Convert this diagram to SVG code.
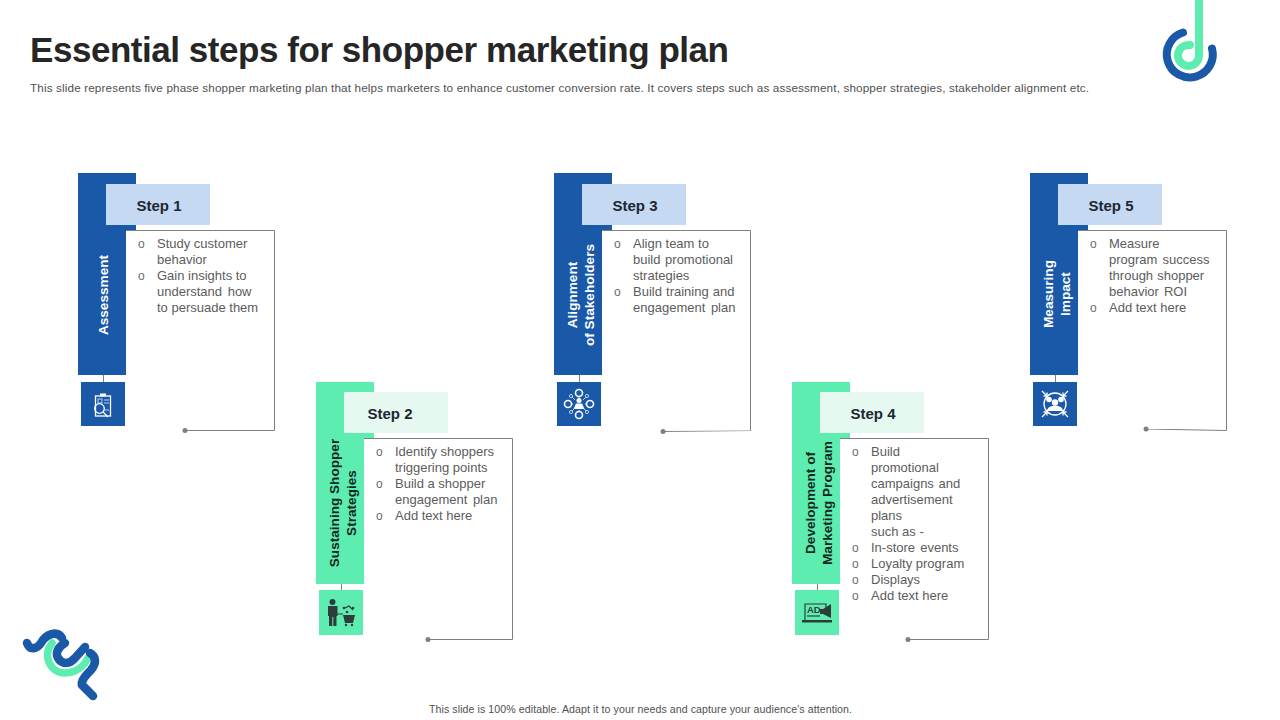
<svg xmlns="http://www.w3.org/2000/svg" width="1280" height="720" viewBox="0 0 1280 720">
<defs>
<style>
text{font-family:"Liberation Sans",Arial,sans-serif}
.title{font-family:"Liberation Sans",Arial,sans-serif;font-size:35px;font-weight:700;fill:#262626}
.sub{font-size:11.7px;fill:#505050}
.foot{font-size:10.6px;fill:#505050}
.step{font-size:15px;font-weight:700;fill:#1d2733;text-anchor:middle}
.body{font-size:13px;fill:#5c5c5c}
.bul{font-size:12px;fill:#6a6a6a}
.vw{font-size:13.6px;font-weight:700;fill:#fff;text-anchor:middle}
.vd{font-size:13.6px;font-weight:700;fill:#14281f;text-anchor:middle}
.blue{fill:#1a58a8}.green{fill:#5eedb0}.lb{fill:#c6d9f3}.lg{fill:#e6f9f0}
.frame{fill:#fff;stroke:#7f7f7f;stroke-width:1}
.conn{fill:none;stroke:#7f7f7f;stroke-width:1}
.dot{fill:#7f7f7f}
.iw{fill:none;stroke:#fff;stroke-width:1.3}
.ilb{fill:none;stroke:#b9d3f5;stroke-width:1}
.wf{fill:#fff}
.ik{fill:#2f3d3a}
.iks{fill:none;stroke:#2f3d3a;stroke-width:1.2}
</style>
</defs>
<rect width="1280" height="720" fill="#fff"/>
<text class="title" x="30" y="62" textLength="699" lengthAdjust="spacing">Essential steps for shopper marketing plan</text>
<text class="sub" x="30" y="92" textLength="1059" lengthAdjust="spacing">This slide represents five phase shopper marketing plan that helps marketers to enhance customer conversion rate. It covers steps such as assessment, shopper strategies, stakeholder alignment etc.</text>

<g id="logo-top">
<path d="M1183 32.500A23 23 0 1 0 1212 48.500" fill="none" stroke="#1a58a8" stroke-width="8" stroke-linecap="round"/>
<path d="M1199 0V55A10.500 10.500 0 1 1 1190 45" fill="none" stroke="#5eedb0" stroke-width="8" stroke-linecap="round"/>
</g>
<g id="logo-bottom">
<path d="M52 643C42 656 50 673 65 673C76 673 84 666 88 658" fill="none" stroke="#5eedb0" stroke-width="7.500" stroke-linecap="round"/>
<path d="M27 643C30 651 37 649 41 643C46 634 57 630 62 638" fill="none" stroke="#1a58a8" stroke-width="8.500" stroke-linecap="round"/>
<path d="M65 643C58 647 55 653 58 658C62 665 70 664 75 658L85 647" fill="none" stroke="#1a58a8" stroke-width="8.500" stroke-linecap="round"/>
<path d="M90 653C97 657 96 664 91 670C83 678 79 684 84 687L93 696" fill="none" stroke="#1a58a8" stroke-width="8.500" stroke-linecap="round"/>
</g>

<g id="connectors">
<path class="conn" d="M103.500 375V382"/>
<path class="conn" d="M341.500 584V590"/>
<path class="conn" d="M579.500 375V382"/>
<path class="conn" d="M817.500 584V590"/>
<path class="conn" d="M1055.500 375V382"/>
</g>

<g id="step1">
<path class="blue" d="M78 173H136V230H126V375H78Z"/>
<path class="frame" d="M126 230.500H274.500V430.500H185" />
<rect class="wf" x="126.500" y="231" width="147.500" height="199"/>
<circle class="dot" cx="185" cy="430.500" r="2.500"/>
<rect class="lb" x="106" y="184" width="104" height="41"/>
<text class="step" x="159" y="211">Step 1</text>
<text class="vw" transform="rotate(-90 108 295)" x="108" y="295">Assessment</text>
<g class="body"><text class="bul" x="138" y="248">o</text><text x="157" y="248">Study customer</text><text x="157" y="264">behavior</text><text class="bul" x="138" y="280">o</text><text x="157" y="280">Gain insights to</text><text x="157" y="296" word-spacing="2">understand how</text><text x="157" y="312">to persuade them</text></g>
<rect class="blue" x="81" y="382" width="44" height="44"/>
<g id="icon1"><rect class="iw" x="95.500" y="396" width="15" height="20"/><rect class="wf" x="100" y="393.500" width="6" height="3"/><path class="ilb" d="M104 400h5M104 403h5M105 410h4"/><rect class="ilb" x="98" y="399" width="4" height="4"/><circle class="iw" cx="99.500" cy="408.500" r="4.800"/><path class="iw" d="M103 412l5 5"/></g>
</g>

<g id="step2">
<path class="green" d="M316 382H374V438H364V584H316Z"/>
<path class="frame" d="M364 438.500H512.500V639.500H428"/>
<rect class="wf" x="364.500" y="439" width="147.500" height="200"/>
<circle class="dot" cx="428" cy="639.500" r="2.500"/>
<rect class="lg" x="344" y="392" width="104" height="41"/>
<text class="step" x="390" y="419">Step 2</text>
<text class="vd" transform="rotate(-90 339 503)" x="339" y="503">Sustaining Shopper</text>
<text class="vd" transform="rotate(-90 356 503)" x="356" y="503">Strategies</text>
<g class="body"><text class="bul" x="376" y="456">o</text><text x="395" y="456">Identify shoppers</text><text x="395" y="472">triggering points</text><text class="bul" x="376" y="488">o</text><text x="395" y="488">Build a shopper</text><text x="395" y="504" word-spacing="2">engagement plan</text><text class="bul" x="376" y="520">o</text><text x="395" y="520">Add text here</text></g>
<rect class="green" x="319" y="590" width="44" height="45"/>
<g id="icon2"><circle class="ik" cx="332.500" cy="602" r="3"/><path class="ik" d="M328 606H337.500V616H336.500V626H333.300V617H332.300V626H329V616H328Z"/><path class="ik" d="M343 615H355L353 623H345Z"/><circle class="ik" cx="346" cy="625" r="1.200"/><circle class="ik" cx="352" cy="625" r="1.200"/><path class="iks" d="M337 614H343M345 608L349 606L353 610" stroke-width="1"/><circle class="ik" cx="347" cy="612" r="1.300"/><circle class="ik" cx="353" cy="608" r="1.300"/><circle class="ik" cx="344" cy="608" r="1.300"/></g>
</g>

<g id="step3">
<path class="blue" d="M554 173H612V230H602V375H554Z"/>
<path class="frame" d="M602 230.500H750.500V430.500L663 431.500"/>
<rect class="wf" x="602.500" y="231" width="147.500" height="199.500"/>
<circle class="dot" cx="663" cy="431.500" r="2.500"/>
<rect class="lb" x="582" y="184" width="104" height="41"/>
<text class="step" x="635" y="211">Step 3</text>
<text class="vw" transform="rotate(-90 577 295)" x="577" y="295">Alignment</text>
<text class="vw" transform="rotate(-90 594 295)" x="594" y="295">of Stakeholders</text>
<g class="body"><text class="bul" x="614" y="248">o</text><text x="633" y="248">Align team to</text><text x="633" y="264" word-spacing="1">build promotional</text><text x="633" y="280">strategies</text><text class="bul" x="614" y="296">o</text><text x="633" y="296" word-spacing="0.500">Build training and</text><text x="633" y="312" word-spacing="2">engagement plan</text></g>
<rect class="blue" x="557" y="382" width="44" height="44"/>
<g id="icon3"><path class="ilb" d="M579 404L579 392M579 404L568 404M579 404L590 404M579 404L579 415M579 404L571 396M579 404L587 396M579 404L571 412M579 404L587 412"/><circle class="blue" cx="579" cy="404" r="6"/><circle class="wf" cx="579" cy="400.500" r="2.500"/><path class="wf" d="M573.500 409L576 403.500H582L584.500 409Z"/><circle class="blue" cx="579" cy="393" r="3.500" stroke="#fff" stroke-width="1.600"/><circle class="blue" cx="579" cy="415" r="3.500" stroke="#fff" stroke-width="1.600"/><circle class="blue" cx="568" cy="404" r="3.500" stroke="#fff" stroke-width="1.600"/><circle class="blue" cx="590" cy="404" r="3.500" stroke="#fff" stroke-width="1.600"/><circle class="blue" cx="571" cy="396" r="1.600" stroke="#b9d3f5"/><circle class="blue" cx="587" cy="396" r="1.600" stroke="#b9d3f5"/><circle class="blue" cx="571" cy="412" r="1.600" stroke="#b9d3f5"/><circle class="blue" cx="587" cy="412" r="1.600" stroke="#b9d3f5"/></g>
</g>

<g id="step4">
<path class="green" d="M792 382H850V438H840V584H792Z"/>
<path class="frame" d="M840 438.500H988.500V639.500H908"/>
<rect class="wf" x="840.500" y="439" width="147.500" height="200"/>
<circle class="dot" cx="908" cy="639.500" r="2.500"/>
<rect class="lg" x="820" y="392" width="104" height="41"/>
<text class="step" x="873" y="419">Step 4</text>
<text class="vd" transform="rotate(-90 815 503)" x="815" y="503">Development of</text>
<text class="vd" transform="rotate(-90 832 503)" x="832" y="503">Marketing Program</text>
<g class="body"><text class="bul" x="852" y="456">o</text><text x="871" y="456">Build</text><text x="871" y="472">promotional</text><text x="871" y="488" word-spacing="1">campaigns and</text><text x="871" y="504">advertisement</text><text x="871" y="520">plans</text><text x="871" y="536">such as -</text><text class="bul" x="852" y="552">o</text><text x="871" y="552" word-spacing="1.500">In-store events</text><text class="bul" x="852" y="568">o</text><text x="871" y="568">Loyalty program</text><text class="bul" x="852" y="584">o</text><text x="871" y="584">Displays</text><text class="bul" x="852" y="600">o</text><text x="871" y="600">Add text here</text></g>
<rect class="green" x="795" y="590" width="44" height="45"/>
<g id="icon4"><path class="iks" d="M805 620V604H826V608"/><path class="ik" d="M802 620H832V622.500H802Z"/><text x="807" y="613" font-size="9.500" font-weight="700" fill="#2f3d3a">AD</text><path class="iks" d="M807 616H820" stroke-width="1"/><path class="ik" d="M823 609L831 604V618L823 614H820V609Z"/></g>
</g>

<g id="step5">
<path class="blue" d="M1030 173H1088V230H1078V375H1030Z"/>
<path class="frame" d="M1078 230.500H1226.500V430.500L1146 429"/>
<rect class="wf" x="1078.500" y="231" width="147.500" height="198"/>
<circle class="dot" cx="1146" cy="429" r="2.500"/>
<rect class="lb" x="1058" y="184" width="104" height="41"/>
<text class="step" x="1111" y="211">Step 5</text>
<text class="vw" transform="rotate(-90 1053 294)" x="1053" y="294">Measuring</text>
<text class="vw" transform="rotate(-90 1070 294)" x="1070" y="294">Impact</text>
<g class="body"><text class="bul" x="1090" y="248">o</text><text x="1109" y="248">Measure</text><text x="1109" y="264" word-spacing="1.500">program success</text><text x="1109" y="280" word-spacing="0.500">through shopper</text><text x="1109" y="296" word-spacing="1.500">behavior ROI</text><text class="bul" x="1090" y="312">o</text><text x="1109" y="312">Add text here</text></g>
<rect class="blue" x="1033" y="382" width="44" height="44"/>
<g id="icon5"><circle class="iw" cx="1055" cy="404" r="11" stroke-width="1.500"/><circle class="wf" cx="1049" cy="399.500" r="2.800"/><circle class="wf" cx="1061" cy="399.500" r="2.800"/><circle class="wf" cx="1055" cy="402.500" r="3.200"/><path class="wf" d="M1047 411C1047 404 1063 404 1063 411Z"/><path class="iw" d="M1042 391L1047 396M1047 392.500V396H1043.500M1068 391L1063 396M1063 392.500V396H1066.500M1042 417L1047 412M1047 415.500V412H1043.500M1068 417L1063 412M1063 415.500V412H1066.500"/></g>
</g>

<text class="foot" x="429" y="713" textLength="423" lengthAdjust="spacing">This slide is 100% editable.  Adapt it to your needs and capture your audience's attention.</text>
</svg>
